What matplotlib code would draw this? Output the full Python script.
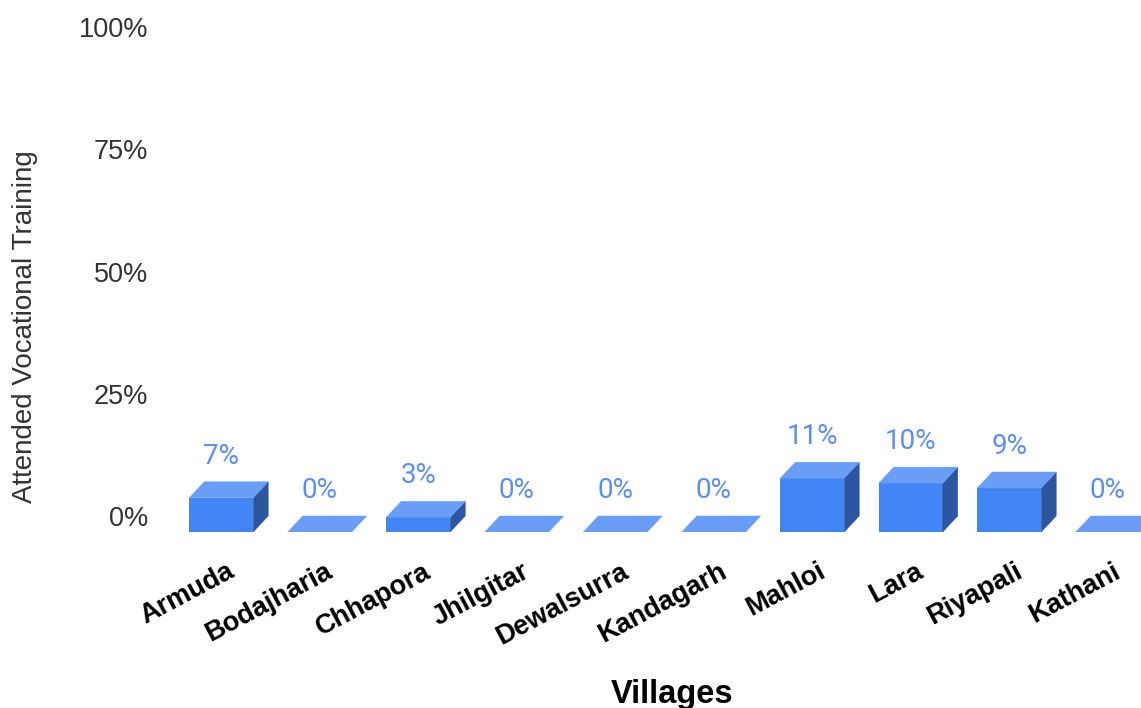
import matplotlib.pyplot as plt
from matplotlib.patches import Polygon
from matplotlib.transforms import ScaledTranslation

villages = ['Armuda', 'Bodajharia', 'Chhapora', 'Jhilgitar', 'Dewalsurra',
            'Kandagarh', 'Mahloi', 'Lara', 'Riyapali', 'Kathani']
attended = [7, 0, 3, 0, 0, 0, 11, 10, 9, 0]
y_ticks = [0, 25, 50, 75, 100]

FRONT = '#4285F4'
TOP = '#6A9DF6'
SIDE = '#2C57A0'
LABEL = '#5C8FF2'

W, H, DPI = 1141, 708, 100
fig = plt.figure(figsize=(W / DPI, H / DPI), dpi=DPI)

# axes run past the right edge so the last bar gets cut off
left, right, top, bottom = 172, 1157, 27, 532
ax = fig.add_axes([left / W, 1 - bottom / H, (right - left) / W, (bottom - top) / H])

px_per_unit_y = (bottom - top - 16) / 100.0
px_per_unit_x = (right - left) / 10.0
dx = 15 / px_per_unit_x   # depth of the fake 3d box, x data units
dy = 16 / px_per_unit_y   # depth of the fake 3d box, y data units
bw = 64 / px_per_unit_x   # front face width

ax.set_xlim(-0.5, 9.5)
ax.set_ylim(-dy, 100)

for i, v in enumerate(attended):
    x0 = i - bw / 2
    x1 = i + bw / 2
    # front face
    if v > 0:
        ax.bar(i, v, width=bw, bottom=-dy, color=FRONT, linewidth=0)
        # right side
        ax.add_patch(Polygon([(x1, -dy), (x1 + dx, 0), (x1 + dx, v), (x1, v - dy)],
                             closed=True, facecolor=SIDE, edgecolor=SIDE, linewidth=0.3))
    # top face
    ax.add_patch(Polygon([(x0, v - dy), (x1, v - dy), (x1 + dx, v), (x0 + dx, v)],
                         closed=True, facecolor=TOP, edgecolor=TOP, linewidth=0.3))
    ax.annotate('{}%'.format(v), (i, v), xytext=(0, 13), textcoords='offset points',
                ha='center', va='baseline', color=LABEL, fontsize=20,
                family='Roboto')

ax.set_yticks(y_ticks)
ax.set_yticklabels(['{}%'.format(t) for t in y_ticks], fontsize=19.5,
                   family='Liberation Sans', color='#333333')
ax.tick_params(axis='y', length=0, pad=17)
ax.set_xticks(range(len(villages)))
ax.set_xticklabels(villages, rotation=28, ha='right', rotation_mode='anchor',
                   fontsize=19.5, fontweight='bold', family='Liberation Sans')
ax.tick_params(axis='x', length=0, pad=19)
shift = ScaledTranslation(5 / DPI, 0, fig.dpi_scale_trans)
for lbl in ax.get_xticklabels():
    lbl.set_transform(lbl.get_transform() + shift)

for s in ax.spines.values():
    s.set_visible(False)

fig.text(25 / W, 1 - 327 / H, 'Attended Vocational Training', rotation=90,
         ha='center', va='center', fontsize=20, family='Liberation Sans', color='#333333')
fig.text(672 / W, 1 - 694 / H, 'Villages', ha='center', va='center',
         fontsize=23.5, fontweight='bold', family='Liberation Sans')

fig.savefig('out.png', dpi=DPI)
